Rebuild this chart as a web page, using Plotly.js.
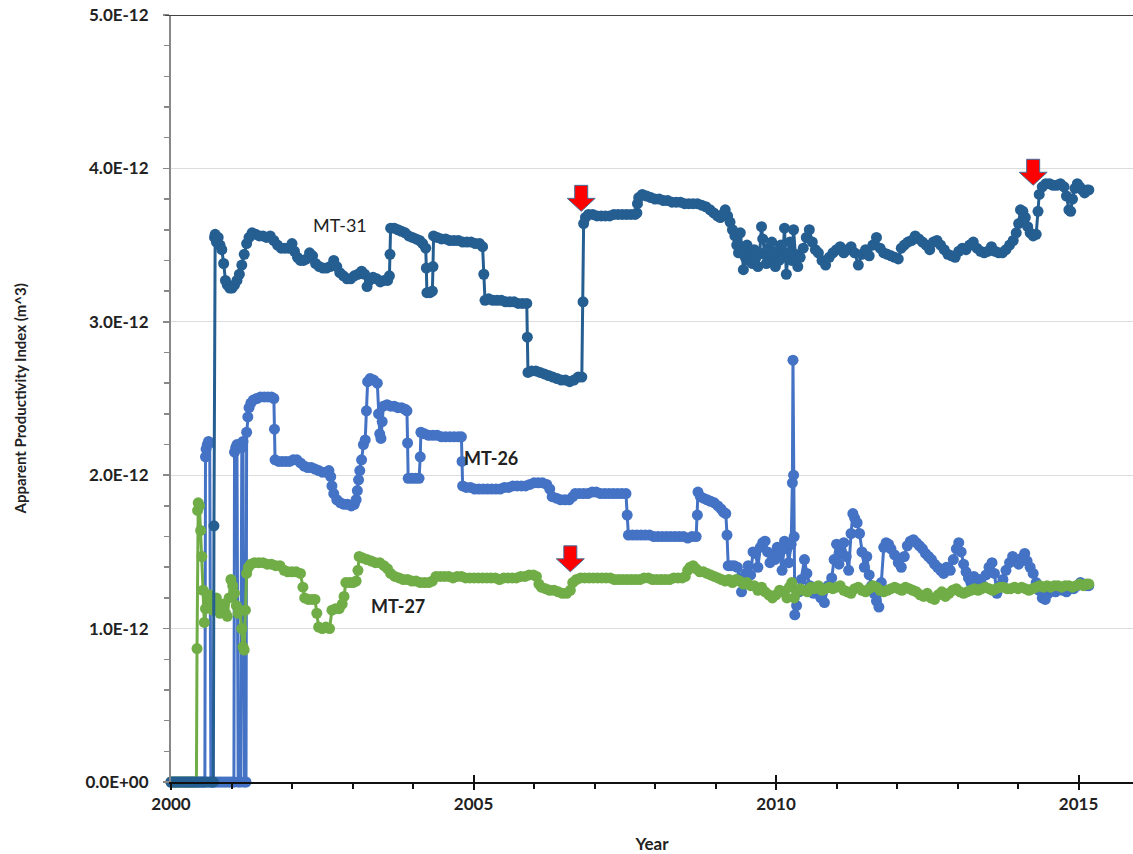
<!DOCTYPE html>
<html>
<head>
<meta charset="utf-8">
<script src="https://cdn.plot.ly/plotly-3.0.1.min.js"></script>
<style>html,body{margin:0;padding:0;background:#fff;}#chart{width:1133px;height:854px;}</style>
</head>
<body>
<div id="chart"></div>
<script>
// values in units of 1E-12 m^3, x in decimal years
const UNIT = 1e-12;

const mt31 = [
[2000.00,0],[2000.04,0],[2000.08,0],[2000.12,0],[2000.16,0],[2000.20,0],[2000.24,0],[2000.28,0],[2000.32,0],[2000.36,0],[2000.40,0],[2000.44,0],[2000.48,0],[2000.52,0],[2000.56,0],[2000.60,0],[2000.64,0],[2000.68,0],[2000.70,0],
[2000.71,1.67],[2000.72,3.55],[2000.73,3.57],[2000.75,3.52],[2000.78,3.55],[2000.81,3.50],[2000.84,3.47],[2000.87,3.38],[2000.90,3.27],[2000.93,3.24],[2000.97,3.22],
[2001.01,3.22],[2001.05,3.24],[2001.09,3.27],[2001.13,3.31],[2001.17,3.37],[2001.21,3.44],[2001.25,3.51],[2001.29,3.55],[2001.34,3.58],[2001.40,3.57],[2001.46,3.56],
[2001.52,3.56],[2001.58,3.55],[2001.64,3.56],[2001.70,3.53],[2001.76,3.50],[2001.82,3.48],[2001.88,3.48],[2001.94,3.48],[2002.00,3.51],[2002.04,3.46],[2002.09,3.42],
[2002.14,3.40],[2002.19,3.40],[2002.24,3.41],[2002.29,3.45],[2002.34,3.43],[2002.39,3.38],[2002.45,3.36],[2002.51,3.35],[2002.57,3.35],[2002.63,3.36],[2002.69,3.40],
[2002.74,3.36],[2002.79,3.32],[2002.85,3.30],[2002.91,3.28],[2002.97,3.28],[2003.03,3.30],[2003.09,3.31],[2003.15,3.33],[2003.20,3.31],[2003.24,3.23],[2003.28,3.27],
[2003.34,3.29],[2003.40,3.28],[2003.46,3.26],[2003.52,3.27],[2003.58,3.27],[2003.61,3.30],[2003.62,3.44],[2003.63,3.61],[2003.69,3.61],[2003.75,3.60],[2003.81,3.59],
[2003.87,3.58],[2003.93,3.56],[2003.99,3.55],[2004.05,3.54],[2004.11,3.53],[2004.16,3.51],[2004.21,3.48],[2004.22,3.35],[2004.23,3.19],[2004.28,3.19],[2004.32,3.20],
[2004.33,3.36],[2004.34,3.56],[2004.40,3.55],[2004.47,3.54],[2004.54,3.54],[2004.61,3.53],[2004.68,3.53],[2004.75,3.53],[2004.82,3.52],[2004.89,3.52],[2004.96,3.52],
[2005.03,3.51],[2005.10,3.51],[2005.15,3.49],[2005.17,3.31],[2005.19,3.14],[2005.25,3.15],[2005.32,3.14],[2005.39,3.14],[2005.46,3.14],[2005.53,3.13],[2005.60,3.13],
[2005.67,3.13],[2005.74,3.12],[2005.81,3.12],[2005.88,3.12],[2005.89,2.90],[2005.90,2.67],[2005.96,2.68],[2006.03,2.68],[2006.10,2.67],[2006.17,2.66],[2006.24,2.65],
[2006.31,2.64],[2006.38,2.63],[2006.45,2.62],[2006.52,2.62],[2006.59,2.61],[2006.66,2.62],[2006.73,2.64],[2006.79,2.64],[2006.81,3.13],[2006.82,3.64],[2006.85,3.68],
[2006.90,3.70],[2006.97,3.70],[2007.04,3.69],[2007.11,3.69],[2007.18,3.69],[2007.25,3.69],[2007.32,3.70],[2007.39,3.70],[2007.46,3.70],[2007.53,3.70],[2007.60,3.70],
[2007.67,3.70],[2007.70,3.71],[2007.71,3.77],[2007.73,3.81],[2007.79,3.83],[2007.86,3.82],[2007.93,3.81],[2008.00,3.80],[2008.07,3.80],[2008.14,3.79],[2008.21,3.79],
[2008.28,3.78],[2008.35,3.78],[2008.42,3.78],[2008.49,3.77],[2008.56,3.77],[2008.63,3.77],[2008.70,3.77],[2008.77,3.76],[2008.84,3.75],[2008.91,3.73],[2008.97,3.71],
[2009.03,3.69],[2009.08,3.68],[2009.12,3.70],[2009.16,3.73],[2009.20,3.69],[2009.24,3.65],[2009.28,3.60],[2009.32,3.56],[2009.35,3.50],[2009.38,3.45],[2009.41,3.58],
[2009.44,3.47],[2009.46,3.34],[2009.49,3.42],[2009.52,3.50],[2009.55,3.40],[2009.58,3.44],[2009.61,3.38],[2009.64,3.47],[2009.67,3.42],[2009.70,3.36],[2009.73,3.45],
[2009.76,3.62],[2009.78,3.54],[2009.81,3.44],[2009.84,3.38],[2009.87,3.48],[2009.90,3.40],[2009.93,3.52],[2009.96,3.44],[2009.99,3.36],[2010.02,3.46],[2010.05,3.40],
[2010.08,3.50],[2010.11,3.42],[2010.14,3.61],[2010.17,3.31],[2010.20,3.45],[2010.23,3.52],[2010.26,3.40],[2010.29,3.60],[2010.32,3.44],[2010.36,3.36],[2010.40,3.42],
[2010.45,3.48],[2010.50,3.55],[2010.55,3.60],[2010.60,3.52],[2010.65,3.47],[2010.70,3.45],[2010.76,3.40],[2010.82,3.37],[2010.88,3.42],[2010.94,3.45],[2011.00,3.47],
[2011.06,3.49],[2011.12,3.45],[2011.18,3.47],[2011.24,3.49],[2011.30,3.45],[2011.36,3.37],[2011.42,3.44],[2011.48,3.47],[2011.54,3.43],[2011.60,3.50],[2011.66,3.55],
[2011.72,3.48],[2011.78,3.45],[2011.84,3.44],[2011.90,3.43],[2011.96,3.42],[2012.02,3.41],[2012.07,3.48],[2012.12,3.50],[2012.18,3.52],[2012.24,3.53],[2012.30,3.56],
[2012.36,3.54],[2012.42,3.52],[2012.48,3.50],[2012.54,3.47],[2012.60,3.52],[2012.66,3.53],[2012.72,3.50],[2012.78,3.47],[2012.84,3.44],[2012.90,3.43],[2012.96,3.42],
[2013.02,3.46],[2013.08,3.48],[2013.14,3.47],[2013.20,3.50],[2013.26,3.52],[2013.32,3.48],[2013.38,3.46],[2013.44,3.45],[2013.50,3.46],[2013.56,3.49],[2013.62,3.46],
[2013.68,3.45],[2013.74,3.45],[2013.80,3.47],[2013.86,3.50],[2013.92,3.53],[2013.97,3.58],[2014.01,3.64],[2014.04,3.73],[2014.08,3.72],[2014.12,3.68],[2014.16,3.62],
[2014.20,3.58],[2014.25,3.56],[2014.30,3.57],[2014.33,3.72],[2014.35,3.83],[2014.40,3.88],[2014.46,3.90],[2014.52,3.90],[2014.58,3.89],[2014.64,3.89],[2014.70,3.90],
[2014.76,3.88],[2014.80,3.82],[2014.84,3.73],[2014.87,3.72],[2014.90,3.80],[2014.94,3.87],[2014.98,3.90],[2015.02,3.88],[2015.06,3.86],[2015.10,3.84],[2015.14,3.86],[2015.17,3.86]
];

const mt26 = [
[2000.00,0],[2000.04,0],[2000.08,0],[2000.12,0],[2000.16,0],[2000.20,0],[2000.24,0],[2000.28,0],[2000.32,0],[2000.36,0],[2000.40,0],[2000.44,0],[2000.48,0],[2000.52,0],[2000.56,0],
[2000.57,2.12],[2000.58,2.17],[2000.60,2.20],[2000.62,2.22],[2000.64,2.21],[2000.66,0],
[2000.70,0],[2000.74,0],[2000.78,0],[2000.82,0],[2000.86,0],[2000.90,0],[2000.94,0],[2000.98,0],[2001.02,0],[2001.04,0],
[2001.05,2.15],[2001.07,2.18],[2001.09,2.20],[2001.11,0],[2001.15,0],[2001.17,2.18],[2001.19,2.22],[2001.21,0],[2001.24,0],
[2001.25,2.28],[2001.27,2.38],[2001.29,2.44],[2001.32,2.47],[2001.36,2.49],[2001.42,2.50],[2001.48,2.51],[2001.54,2.51],[2001.60,2.51],[2001.66,2.51],[2001.70,2.50],
[2001.71,2.30],[2001.72,2.10],[2001.78,2.09],[2001.84,2.09],[2001.90,2.09],[2001.96,2.09],[2002.02,2.10],[2002.08,2.10],[2002.14,2.08],[2002.20,2.06],[2002.26,2.05],
[2002.32,2.05],[2002.38,2.04],[2002.44,2.03],[2002.50,2.02],[2002.56,2.02],[2002.61,2.03],[2002.64,1.99],[2002.66,1.93],[2002.69,1.88],[2002.74,1.84],[2002.80,1.82],
[2002.86,1.81],[2002.92,1.81],[2002.98,1.80],[2003.03,1.81],[2003.06,1.84],[2003.08,1.90],[2003.10,1.97],[2003.12,2.03],[2003.15,2.10],[2003.18,2.20],[2003.21,2.23],
[2003.23,2.42],[2003.25,2.61],[2003.29,2.63],[2003.35,2.62],[2003.41,2.60],[2003.43,2.40],[2003.45,2.27],[2003.47,2.24],[2003.49,2.35],[2003.51,2.45],[2003.57,2.46],
[2003.63,2.45],[2003.69,2.45],[2003.75,2.44],[2003.81,2.44],[2003.87,2.43],[2003.90,2.42],[2003.91,2.21],[2003.92,1.98],[2003.98,1.98],[2004.04,1.98],[2004.10,1.98],
[2004.12,2.12],[2004.13,2.28],[2004.19,2.27],[2004.26,2.26],[2004.33,2.26],[2004.40,2.26],[2004.47,2.25],[2004.54,2.25],[2004.61,2.25],[2004.68,2.25],[2004.75,2.25],
[2004.80,2.25],[2004.81,2.09],[2004.82,1.93],[2004.88,1.92],[2004.95,1.92],[2005.02,1.91],[2005.09,1.91],[2005.16,1.91],[2005.23,1.91],[2005.30,1.91],[2005.37,1.91],
[2005.44,1.91],[2005.51,1.92],[2005.58,1.92],[2005.65,1.93],[2005.72,1.93],[2005.79,1.93],[2005.86,1.93],[2005.93,1.94],[2006.00,1.95],[2006.07,1.95],[2006.14,1.95],
[2006.21,1.94],[2006.26,1.91],[2006.30,1.86],[2006.37,1.85],[2006.44,1.84],[2006.51,1.84],[2006.58,1.84],[2006.64,1.86],[2006.68,1.88],[2006.75,1.88],[2006.82,1.88],
[2006.89,1.88],[2006.96,1.89],[2007.03,1.89],[2007.10,1.88],[2007.17,1.88],[2007.24,1.88],[2007.31,1.88],[2007.38,1.88],[2007.45,1.88],[2007.52,1.88],[2007.54,1.74],
[2007.56,1.61],[2007.63,1.61],[2007.70,1.61],[2007.77,1.61],[2007.84,1.61],[2007.91,1.61],[2007.98,1.60],[2008.05,1.60],[2008.12,1.60],[2008.19,1.60],[2008.26,1.60],
[2008.33,1.60],[2008.40,1.60],[2008.47,1.60],[2008.54,1.59],[2008.61,1.60],[2008.68,1.60],[2008.70,1.74],[2008.71,1.89],[2008.75,1.86],[2008.80,1.85],[2008.86,1.84],
[2008.92,1.83],[2008.98,1.82],[2009.04,1.80],[2009.09,1.78],[2009.13,1.76],[2009.17,1.75],[2009.19,1.61],[2009.21,1.41],[2009.26,1.41],[2009.31,1.41],[2009.36,1.40],
[2009.40,1.33],[2009.43,1.24],[2009.46,1.30],[2009.50,1.36],[2009.54,1.41],[2009.58,1.35],[2009.62,1.50],[2009.66,1.49],[2009.70,1.40],[2009.74,1.53],[2009.78,1.56],
[2009.82,1.57],[2009.86,1.50],[2009.90,1.43],[2009.94,1.48],[2009.98,1.45],[2010.02,1.53],[2010.06,1.49],[2010.10,1.38],[2010.14,1.57],[2010.18,1.52],[2010.21,1.43],
[2010.25,1.55],[2010.27,1.95],[2010.28,2.75],[2010.29,2.00],[2010.30,1.60],[2010.31,1.09],[2010.34,1.15],[2010.38,1.24],[2010.42,1.32],[2010.47,1.45],[2010.51,1.36],
[2010.56,1.28],[2010.62,1.23],[2010.68,1.25],[2010.74,1.20],[2010.80,1.17],[2010.86,1.28],[2010.92,1.33],[2010.96,1.45],[2011.00,1.55],[2011.04,1.42],[2011.08,1.50],
[2011.12,1.56],[2011.16,1.47],[2011.20,1.38],[2011.24,1.62],[2011.27,1.75],[2011.30,1.72],[2011.34,1.69],[2011.38,1.62],[2011.42,1.50],[2011.46,1.40],[2011.50,1.47],
[2011.54,1.35],[2011.58,1.28],[2011.62,1.23],[2011.66,1.18],[2011.70,1.14],[2011.74,1.30],[2011.78,1.53],[2011.82,1.56],[2011.86,1.55],[2011.90,1.52],[2011.96,1.48],
[2012.02,1.43],[2012.07,1.40],[2012.12,1.47],[2012.17,1.54],[2012.22,1.57],[2012.27,1.58],[2012.32,1.56],[2012.37,1.54],[2012.42,1.52],[2012.47,1.49],[2012.52,1.47],
[2012.57,1.45],[2012.62,1.42],[2012.67,1.40],[2012.72,1.38],[2012.77,1.36],[2012.82,1.40],[2012.88,1.38],[2012.93,1.45],[2012.98,1.52],[2013.02,1.56],[2013.06,1.50],
[2013.10,1.42],[2013.14,1.37],[2013.18,1.33],[2013.22,1.30],[2013.27,1.34],[2013.32,1.30],[2013.37,1.32],[2013.42,1.28],[2013.47,1.35],[2013.52,1.40],[2013.57,1.43],
[2013.61,1.36],[2013.65,1.23],[2013.70,1.28],[2013.75,1.32],[2013.80,1.38],[2013.86,1.43],[2013.91,1.47],[2013.96,1.44],[2014.01,1.42],[2014.06,1.46],[2014.11,1.49],
[2014.15,1.44],[2014.20,1.40],[2014.25,1.36],[2014.30,1.30],[2014.35,1.25],[2014.40,1.20],[2014.45,1.19],[2014.50,1.23],[2014.56,1.25],[2014.62,1.24],[2014.68,1.26],
[2014.74,1.25],[2014.80,1.24],[2014.86,1.26],[2014.92,1.26],[2014.98,1.28],[2015.03,1.30],[2015.08,1.29],[2015.13,1.28],[2015.17,1.28]
];

const mt27 = [
[2000.00,0],[2000.04,0],[2000.08,0],[2000.12,0],[2000.16,0],[2000.20,0],[2000.24,0],[2000.28,0],[2000.32,0],[2000.36,0],[2000.40,0],[2000.42,0],
[2000.43,0.87],[2000.44,1.77],[2000.45,1.82],[2000.47,1.80],[2000.49,1.64],[2000.51,1.47],[2000.53,1.25],[2000.55,1.04],[2000.57,1.13],[2000.60,1.20],[2000.63,1.22],
[2000.66,1.18],[2000.69,1.12],[2000.72,1.15],[2000.75,1.20],[2000.78,1.14],[2000.81,1.10],[2000.84,1.12],[2000.87,1.16],[2000.90,1.10],[2000.93,1.08],[2000.96,1.20],
[2000.99,1.32],[2001.02,1.28],[2001.05,1.23],[2001.08,1.15],[2001.11,1.10],[2001.14,1.12],[2001.17,1.00],[2001.19,0.88],[2001.21,0.86],[2001.23,1.12],[2001.25,1.36],
[2001.28,1.40],[2001.32,1.42],[2001.38,1.43],[2001.45,1.43],[2001.52,1.43],[2001.59,1.42],[2001.66,1.42],[2001.73,1.41],[2001.80,1.41],[2001.87,1.38],[2001.93,1.37],
[2002.00,1.37],[2002.07,1.37],[2002.14,1.36],[2002.18,1.27],[2002.21,1.20],[2002.27,1.19],[2002.33,1.19],[2002.38,1.19],[2002.41,1.10],[2002.44,1.01],[2002.50,1.00],
[2002.56,1.01],[2002.62,1.00],[2002.66,1.12],[2002.72,1.13],[2002.78,1.13],[2002.83,1.16],[2002.86,1.21],[2002.89,1.30],[2002.95,1.30],[2003.01,1.30],[2003.06,1.31],
[2003.09,1.38],[2003.11,1.47],[2003.17,1.46],[2003.24,1.45],[2003.31,1.44],[2003.38,1.43],[2003.45,1.43],[2003.52,1.41],[2003.58,1.39],[2003.63,1.36],[2003.70,1.34],
[2003.77,1.33],[2003.84,1.32],[2003.91,1.32],[2003.98,1.31],[2004.05,1.31],[2004.12,1.30],[2004.19,1.30],[2004.26,1.30],[2004.32,1.31],[2004.38,1.34],[2004.45,1.34],
[2004.52,1.34],[2004.59,1.34],[2004.66,1.33],[2004.73,1.34],[2004.80,1.34],[2004.87,1.33],[2004.94,1.33],[2005.01,1.33],[2005.08,1.33],[2005.15,1.33],[2005.22,1.33],
[2005.29,1.33],[2005.36,1.33],[2005.43,1.32],[2005.50,1.33],[2005.57,1.33],[2005.64,1.33],[2005.71,1.33],[2005.78,1.34],[2005.85,1.34],[2005.92,1.35],[2005.99,1.35],
[2006.04,1.34],[2006.08,1.29],[2006.12,1.27],[2006.19,1.26],[2006.26,1.25],[2006.33,1.25],[2006.40,1.24],[2006.47,1.23],[2006.54,1.23],[2006.60,1.25],[2006.64,1.30],
[2006.70,1.32],[2006.77,1.33],[2006.84,1.33],[2006.91,1.33],[2006.98,1.33],[2007.05,1.33],[2007.12,1.33],[2007.19,1.33],[2007.26,1.33],[2007.33,1.32],[2007.40,1.32],
[2007.47,1.32],[2007.54,1.32],[2007.61,1.32],[2007.68,1.32],[2007.75,1.32],[2007.82,1.33],[2007.89,1.33],[2007.96,1.32],[2008.03,1.32],[2008.10,1.32],[2008.17,1.32],
[2008.24,1.32],[2008.31,1.33],[2008.38,1.33],[2008.45,1.33],[2008.50,1.34],[2008.54,1.38],[2008.58,1.40],[2008.63,1.41],[2008.68,1.39],[2008.74,1.37],[2008.80,1.37],
[2008.86,1.36],[2008.92,1.35],[2008.98,1.34],[2009.04,1.33],[2009.10,1.32],[2009.16,1.31],[2009.22,1.32],[2009.28,1.30],[2009.34,1.32],[2009.40,1.31],[2009.46,1.29],
[2009.52,1.30],[2009.58,1.28],[2009.64,1.28],[2009.70,1.25],[2009.76,1.27],[2009.82,1.24],[2009.88,1.22],[2009.94,1.20],[2010.00,1.22],[2010.06,1.25],[2010.12,1.24],
[2010.18,1.20],[2010.22,1.27],[2010.26,1.30],[2010.30,1.20],[2010.34,1.24],[2010.40,1.26],[2010.46,1.25],[2010.52,1.24],[2010.58,1.27],[2010.64,1.26],[2010.70,1.28],
[2010.76,1.25],[2010.82,1.26],[2010.88,1.27],[2010.94,1.26],[2011.00,1.27],[2011.06,1.28],[2011.12,1.25],[2011.18,1.24],[2011.24,1.23],[2011.30,1.26],[2011.36,1.27],
[2011.42,1.25],[2011.48,1.24],[2011.54,1.26],[2011.60,1.28],[2011.66,1.27],[2011.72,1.25],[2011.78,1.24],[2011.84,1.25],[2011.90,1.26],[2011.96,1.27],[2012.02,1.26],
[2012.08,1.25],[2012.14,1.27],[2012.20,1.26],[2012.26,1.25],[2012.32,1.24],[2012.38,1.22],[2012.44,1.21],[2012.50,1.23],[2012.56,1.20],[2012.62,1.19],[2012.68,1.22],
[2012.74,1.24],[2012.80,1.21],[2012.86,1.23],[2012.92,1.25],[2012.98,1.26],[2013.04,1.24],[2013.10,1.23],[2013.16,1.24],[2013.22,1.25],[2013.28,1.26],[2013.34,1.25],
[2013.40,1.26],[2013.46,1.27],[2013.52,1.26],[2013.58,1.25],[2013.64,1.26],[2013.70,1.27],[2013.76,1.27],[2013.82,1.26],[2013.88,1.26],[2013.94,1.27],[2014.00,1.26],
[2014.06,1.27],[2014.12,1.26],[2014.18,1.25],[2014.24,1.26],[2014.30,1.27],[2014.36,1.28],[2014.42,1.27],[2014.48,1.28],[2014.54,1.27],[2014.60,1.28],[2014.66,1.28],
[2014.72,1.27],[2014.78,1.28],[2014.84,1.28],[2014.90,1.27],[2014.96,1.28],[2015.02,1.29],[2015.08,1.28],[2015.13,1.29],[2015.17,1.29]
];

const yTickVals = [0, 1, 2, 3, 4, 5];
const yTickText = ['0.0E+00', '1.0E-12', '2.0E-12', '3.0E-12', '4.0E-12', '5.0E-12'];

// series labels: [text, year, value, bold]
const seriesLabels = [
  ['MT-31', 2002.79, 3.63, false],
  ['MT-26', 2005.29, 2.11, true],
  ['MT-27', 2003.75, 1.15, true]
];
// red arrow markers: [year, value] at arrow tip
const arrowTips = [[2006.78, 3.72], [2014.25, 3.89], [2006.60, 1.37]];

const FONT = 'Lato, "Open Sans", Arial, sans-serif';

function series(data, color, name) {
  return {
    type: 'scatter', mode: 'lines+markers', name: name,
    x: data.map(d => d[0]), y: data.map(d => d[1] * UNIT),
    line: {color: color, width: 3},
    marker: {color: color, size: 11, line: {width: 0}},
    cliponaxis: false,
    hoverinfo: 'skip'
  };
}

const traces = [
  series(mt26, '#4472C4', 'MT-26'),
  series(mt27, '#70AD47', 'MT-27'),
  series(mt31, '#255E91', 'MT-31'),
  {type: 'scatter', x: [], y: [], xaxis: 'x2', yaxis: 'y', showlegend: false, hoverinfo: 'skip'},
  {type: 'scatter', x: [], y: [], xaxis: 'x', yaxis: 'y2', showlegend: false, hoverinfo: 'skip'}
];

const arrowPath = 'M -6.5,26 L 6.5,26 L 6.5,13 L 14,13 L 0,0 L -14,13 L -6.5,13 Z';
const shapes = [
  {type: 'line', xref: 'paper', x0: -0.006, x1: 1, yref: 'y', y0: 5 * UNIT, y1: 5 * UNIT,
   line: {color: '#444', width: 2}, layer: 'above'}
].concat(arrowTips.map(t => ({
  type: 'path', xref: 'x', yref: 'y', xsizemode: 'pixel', ysizemode: 'pixel',
  xanchor: t[0], yanchor: t[1] * UNIT, path: arrowPath,
  fillcolor: '#FF0000', line: {color: '#41719C', width: 1}, layer: 'above'
})));

const annotations = seriesLabels.map(l => ({
  text: l[3] ? '<b>' + l[0] + '</b>' : l[0], x: l[1], y: l[2] * UNIT, xref: 'x', yref: 'y',
  showarrow: false, font: {family: FONT, size: 18, color: '#222'}
}));
// y axis title placed as rotated text
annotations.push({
  text: '<b>Apparent Productivity Index (m^3)</b>', xref: 'paper', yref: 'paper',
  x: -0.157, y: 0.5, xanchor: 'center', yanchor: 'middle', textangle: -90, showarrow: false,
  font: {family: FONT, size: 15, color: '#222'}
});

const layout = {
  width: 1133, height: 854,
  margin: {l: 171, r: 0, t: 15, b: 72, pad: 0},
  paper_bgcolor: '#fff', plot_bgcolor: '#fff',
  showlegend: false,
  font: {family: FONT, color: '#222'},
  xaxis: {
    range: [2000, 2015.9], tickmode: 'linear', tick0: 2000, dtick: 5,
    ticks: 'outside', ticklen: 6, tickwidth: 2, tickcolor: '#111',
    showline: true, linecolor: '#111', linewidth: 2,
    showgrid: false, zeroline: false,
    minor: {tickmode: 'linear', tick0: 2000, dtick: 1, ticks: 'outside', ticklen: 5, tickwidth: 2, tickcolor: '#111', showgrid: false},
    tickfont: {family: FONT, size: 17, color: '#222', weight: 'bold'},
    title: {text: '<b>Year</b>', font: {family: FONT, size: 17, color: '#222'}, standoff: 26}
  },
  xaxis2: {
    overlaying: 'x', anchor: 'y', side: 'bottom', range: [2000, 2015.9],
    tickmode: 'linear', tick0: 2000, dtick: 5, ticks: 'inside', ticklen: 7, tickwidth: 2, tickcolor: '#111',
    showticklabels: false, showline: false, showgrid: false, zeroline: false
  },
  // label axis: invisible long ticks push labels away from the axis line
  yaxis: {
    range: [0, 5 * UNIT], tickmode: 'array', tickvals: yTickVals.map(v => v * UNIT), ticktext: yTickText,
    ticks: 'outside', ticklen: 18, tickwidth: 1, tickcolor: 'rgba(0,0,0,0)',
    showline: false,
    showgrid: true, gridcolor: '#DDDDDD', gridwidth: 1, zeroline: false,
    tickfont: {family: FONT, size: 17, color: '#222', weight: 'bold'}
  },
  // visible axis line and tick marks
  yaxis2: {
    overlaying: 'y', anchor: 'x', side: 'left', range: [0, 5 * UNIT],
    tickmode: 'array', tickvals: yTickVals.map(v => v * UNIT),
    ticks: 'outside', ticklen: 6, tickwidth: 1.5, tickcolor: '#888',
    showline: true, linecolor: '#888', linewidth: 2,
    showgrid: false, zeroline: false, showticklabels: false,
    minor: {tickmode: 'linear', tick0: 0, dtick: 0.2 * UNIT, ticks: 'outside', ticklen: 5, tickwidth: 1.5, tickcolor: '#888', showgrid: false}
  },
  shapes: shapes,
  annotations: annotations
};

Plotly.newPlot('chart', traces, layout, {displayModeBar: false, staticPlot: true});
</script>
</body>
</html>
